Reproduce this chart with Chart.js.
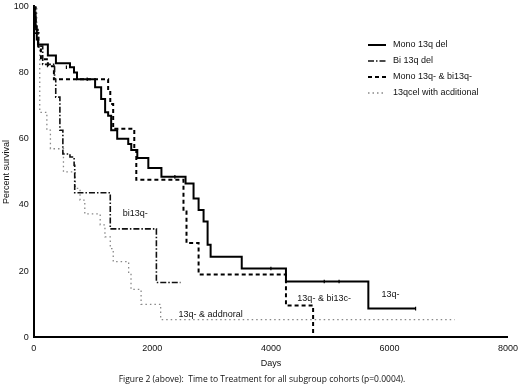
<!DOCTYPE html>
<html lang="en">
<head>
    <meta charset="UTF-8">
    <title>Time to Treatment - subgroup cohorts</title>
    <script src="https://cdn.jsdelivr.net/npm/chart.js"></script>
    <style>
        html, body { margin: 0; padding: 0; background: #fff; }
        #wrap { width: 520px; height: 389px; position: relative; }
    </style>
</head>
<body>
<div id="wrap"><canvas id="km"></canvas></div>
<script>
// Kaplan-Meier steps (days, percent)
const monoDays = [0, 15, 30, 50, 70, 237, 373, 610, 678, 729, 1034, 1136, 1203, 1254, 1305, 1407, 1593, 1644, 1746, 1932, 2153, 2560, 2695, 2780, 2864, 2932, 2983, 3508, 4254, 5644, 6441];
const monoPct  = [100, 97, 94, 90, 88.5, 85.2, 82.8, 81.6, 80, 78, 75.6, 72, 68, 67, 62.6, 60, 58.4, 56.6, 54.2, 51.2, 48.5, 46.5, 42, 38.5, 35, 28, 24.4, 20.8, 16.9, 8.7, 8.7];

const biDays = [0, 30, 70, 150, 350, 370, 440, 490, 610, 680, 690, 1290, 2068, 2475];
const biPct  = [100, 93, 88, 82.5, 78, 72.6, 62.6, 55.4, 54.5, 52, 43.7, 32.8, 16.6, 16.6];

const bothDays = [0, 30, 80, 120, 237, 339, 1254, 1290, 1339, 1695, 1729, 2525, 2576, 2780, 4254, 4712];
const bothPct  = [100, 92, 87, 84, 81.9, 78, 74.7, 70.5, 63, 56.6, 47.6, 38, 28.5, 19, 9.6, 0];

const addDays = [0, 50, 90, 100, 220, 280, 500, 700, 780, 860, 1120, 1200, 1290, 1340, 1600, 1640, 1810, 2140, 7100];
const addPct  = [100, 90, 87, 68, 62.6, 57, 50, 45, 41.5, 37.3, 34, 30.4, 26.8, 22.9, 19.3, 14.5, 10, 5.4, 5.4];

// censor ticks on the solid curve
const censorDays = [550, 900, 2380, 4000, 4900, 5150, 6441];
const censorPct  = [81.6, 78, 48.5, 20.8, 16.9, 16.9, 8.7];

const seriesNames = ['Mono 13q del', 'Bi 13q del', 'Mono 13q- & bi13q-', '13qcel with acditional'];
const xTicks = [0, 2000, 4000, 6000, 8000];
const yTicks = [0, 20, 40, 60, 80, 100];

// in-plot notes: text, days, percent
const noteText = ['bi13q-', '13q- & addnoral', '13q- & bi13c-', '13q-'];
const noteDays = [1712, 2983, 4898, 6017];
const notePct  = [37.3, 6.9, 11.7, 13];

const caption = 'Figure 2 (above):  Time to Treatment for all subgroup cohorts (p=0.0004).';

function pts(d, p) { return d.map((v, i) => ({ x: v, y: p[i] })); }

const styles = [
    { color: '#000', width: 2, dash: [] },
    { color: '#111', width: 1.6, dash: [6, 2, 1.5, 2] },
    { color: '#000', width: 2, dash: [4, 3] },
    { color: '#888', width: 1.3, dash: [1.5, 3] }
];
const allData = [pts(monoDays, monoPct), pts(biDays, biPct), pts(bothDays, bothPct), pts(addDays, addPct)];

const datasets = allData.map((d, i) => ({
    label: seriesNames[i],
    data: d,
    stepped: 'before',
    borderColor: styles[i].color,
    borderWidth: styles[i].width,
    borderDash: styles[i].dash,
    pointRadius: 0,
    fill: false
}));
datasets.push({
    label: 'censored',
    type: 'scatter',
    data: pts(censorDays, censorPct),
    pointStyle: 'line',
    rotation: 90,
    pointRadius: 1.8,
    borderColor: '#000',
    borderWidth: 1.2,
    showLine: false
});

// legend + notes + caption drawn on top
const extras = {
    id: 'extras',
    afterDraw(chart) {
        const ctx = chart.ctx;
        const xs = chart.scales.x, ys = chart.scales.y;
        ctx.save();
        ctx.font = '9px "Liberation Sans", Arial, sans-serif';
        ctx.fillStyle = '#111';
        ctx.textBaseline = 'middle';
        seriesNames.forEach((name, i) => {
            const y = 45 + i * 16;
            ctx.strokeStyle = styles[i].color;
            ctx.lineWidth = styles[i].width;
            ctx.setLineDash(styles[i].dash);
            ctx.beginPath();
            ctx.moveTo(368, y);
            ctx.lineTo(386, y);
            ctx.stroke();
            ctx.setLineDash([]);
            ctx.fillText(name, 393, y);
        });
        ctx.textAlign = 'center';
        noteText.forEach((t, i) => {
            ctx.fillText(t, xs.getPixelForValue(noteDays[i]), ys.getPixelForValue(notePct[i]));
        });
        ctx.font = '8.5px "Open Sans", sans-serif';
        ctx.fillText(caption, 262, 380);
        ctx.restore();
    }
};

const tickFont = { size: 9, family: '"Liberation Sans", Arial' };

new Chart(document.getElementById('km'), {
    type: 'line',
    data: { datasets: datasets },
    options: {
        responsive: true,
        maintainAspectRatio: false,
        animation: false,
        layout: { padding: { top: 4, right: 11, bottom: 20, left: 0 } },
        plugins: { legend: { display: false }, tooltip: { enabled: false } },
        scales: {
            x: {
                type: 'linear',
                min: 0, max: 8000,
                afterBuildTicks: (axis) => { axis.ticks = xTicks.map(v => ({ value: v })); },
                grid: { display: false, drawTicks: true, tickLength: 4, tickColor: '#000', tickWidth: 1.5 },
                border: { color: '#000', width: 2 },
                ticks: { color: '#111', font: tickFont, padding: 2, maxRotation: 0, callback: (v) => String(v) },
                title: { display: true, text: 'Days', color: '#111', font: tickFont, padding: { top: 2, bottom: 0 } }
            },
            y: {
                min: 0, max: 100,
                afterBuildTicks: (axis) => { axis.ticks = yTicks.map(v => ({ value: v })); },
                grid: { display: false, drawTicks: true, tickLength: 4, tickColor: '#000', tickWidth: 1.5 },
                border: { color: '#000', width: 2 },
                ticks: { color: '#111', font: tickFont, padding: 1, callback: (v) => String(v) },
                title: { display: true, text: 'Percent survival', color: '#111', font: tickFont, padding: 1 }
            }
        }
    },
    plugins: [extras]
});
</script>
</body>
</html>
